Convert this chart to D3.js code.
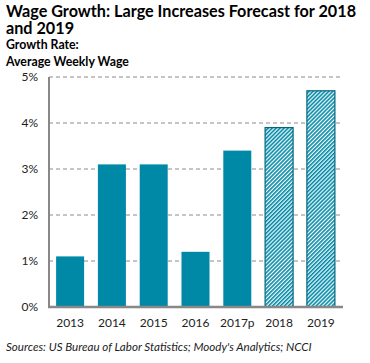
<!DOCTYPE html>
<html>
<head>
<meta charset="utf-8">
<script src="https://cdn.jsdelivr.net/npm/d3@7"></script>
<style>
  body { margin: 0; background: #fff; }
  svg { font-family: Lato, "Open Sans", sans-serif; }
</style>
</head>
<body>
<div id="chart"></div>
<script>
// data
var years = ["2013", "2014", "2015", "2016", "2017p", "2018", "2019"];
var growth = [1.1, 3.1, 3.1, 1.2, 3.4, 3.9, 4.7];
var forecast = [false, false, false, false, false, true, true];
var yTicks = [0, 1, 2, 3, 4, 5];

var svgWidth = 370;
var svgHeight = 363;

var margin = { top: 77, right: 28, bottom: 56, left: 49 };
var width = svgWidth - margin.left - margin.right;
var height = svgHeight - margin.top - margin.bottom;

var teal = "#0089a7";
var font = "Lato, 'Open Sans', sans-serif";

var svg = d3.select("#chart")
    .append("svg")
    .attr("width", svgWidth)
    .attr("height", svgHeight);

// hatch pattern for forecast bars
var defs = svg.append("defs");
var pat = defs.append("pattern")
    .attr("id", "hatch")
    .attr("patternUnits", "userSpaceOnUse")
    .attr("width", 2.8)
    .attr("height", 2.8)
    .attr("patternTransform", "rotate(45)");
pat.append("rect").attr("width", 2.8).attr("height", 2.8).attr("fill", "#fff");
pat.append("rect").attr("width", 1.6).attr("height", 2.8).attr("fill", teal);

// titles
svg.append("text")
    .attr("x", 6).attr("y", 17)
    .attr("font-size", 16.2).attr("font-weight", "bold")
    .text("Wage Growth: Large Increases Forecast for 2018");
svg.append("text")
    .attr("x", 6).attr("y", 33.5)
    .attr("font-size", 16.2).attr("font-weight", "bold")
    .text("and 2019");
svg.append("text")
    .attr("x", 6).attr("y", 49)
    .attr("font-size", 12.3).attr("font-weight", "bold")
    .text("Growth Rate:");
svg.append("text")
    .attr("x", 6).attr("y", 66)
    .attr("font-size", 12.3).attr("font-weight", "bold")
    .text("Average Weekly Wage");

var chartGroup = svg.append("g")
    .attr("transform", `translate(${margin.left}, ${margin.top})`);

var x = d3.scaleBand()
    .domain(years)
    .range([0, width])
    .paddingInner(0.33)
    .paddingOuter(0.17);

var y = d3.scaleLinear()
    .domain([0, 5])
    .range([height, 0]);

// gridlines
chartGroup.selectAll(".grid")
    .data(yTicks.filter(d => d > 0))
    .enter()
    .append("line")
    .attr("x1", 0)
    .attr("x2", width - 2)
    .attr("y1", d => y(d))
    .attr("y2", d => y(d))
    .attr("stroke", "#8c8c8c")
    .attr("stroke-width", 1)
    .attr("stroke-dasharray", "4,3");

// y axis
var leftAxis = d3.axisLeft(y)
    .tickValues(yTicks)
    .tickSize(0)
    .tickPadding(11)
    .tickFormat(d => d + "%");
var yAxis = chartGroup.append("g").call(leftAxis);
yAxis.select(".domain").remove();
yAxis.selectAll("text")
    .attr("font-size", 12)
    .attr("font-family", font)
    .attr("fill", "#222");

// bars
chartGroup.selectAll(".bar")
    .data(years)
    .enter()
    .append("rect")
    .attr("x", d => x(d))
    .attr("width", x.bandwidth())
    .attr("y", (d, i) => y(growth[i]))
    .attr("height", (d, i) => height - y(growth[i]))
    .attr("fill", (d, i) => forecast[i] ? "url(#hatch)" : teal)
    .attr("stroke", (d, i) => forecast[i] ? "#00667c" : "none")
    .attr("stroke-width", 1.2);

// axis lines
chartGroup.append("line")
    .attr("x1", 0).attr("x2", 0)
    .attr("y1", 0).attr("y2", height)
    .attr("stroke", "#888").attr("stroke-width", 2);

// x axis
var bottomAxis = d3.axisBottom(x)
    .tickSize(0)
    .tickPadding(11);
var xAxis = chartGroup.append("g")
    .attr("transform", `translate(0, ${height})`)
    .call(bottomAxis);
xAxis.select(".domain")
    .attr("stroke", "#888")
    .attr("stroke-width", 2.5)
    .attr("d", `M-1,0H${width + 1}`);
xAxis.selectAll("text")
    .attr("font-size", 12)
    .attr("font-family", font)
    .attr("fill", "#222");

// source
svg.append("text")
    .attr("x", 6).attr("y", 351)
    .attr("font-size", 11.6).attr("font-style", "italic")
    .attr("fill", "#222")
    .text("Sources: US Bureau of Labor Statistics; Moody's Analytics; NCCI");
</script>
</body>
</html>
